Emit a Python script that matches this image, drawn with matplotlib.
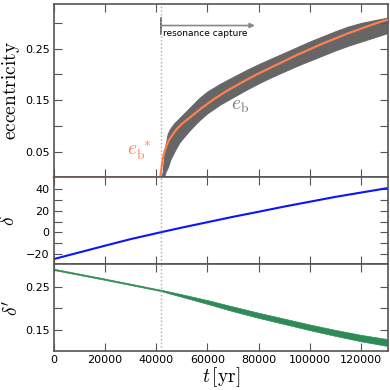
import matplotlib
matplotlib.use('Agg')
import matplotlib.pyplot as plt
import numpy as np

plt.rcParams['mathtext.fontset'] = 'cm'
plt.rcParams['font.size'] = 8

# eccentricity e_b* (orange, forced)
t_es = [0, 41500, 41800, 42200, 42700, 43300, 44000, 45000, 46500, 48000,
        50000, 52500, 55000, 57500, 60000, 62500, 65000, 67500, 70000,
        75000, 80000, 85000, 90000, 95000, 100000, 105000, 110000, 115000,
        120000, 125000, 130000]
e_star = [0.0, 0.0, 0.008, 0.025, 0.04, 0.052, 0.062, 0.073, 0.084, 0.094,
          0.104, 0.114, 0.124, 0.134, 0.143, 0.152, 0.160, 0.168, 0.175,
          0.189, 0.202, 0.214, 0.226, 0.238, 0.249, 0.260, 0.270, 0.280,
          0.289, 0.298, 0.306]

# e_b envelope (grey band, fast oscillation)
t_eb = [0, 41800, 42500, 43000, 43500, 44500, 45500, 47000, 49000, 51000,
        54000, 57000, 60000, 65000, 70000, 75000, 80000, 85000, 90000,
        95000, 100000, 105000, 110000, 115000, 120000, 125000, 130000]
eb_lo = [0.0, 0.0, 0.0, 0.0, 0.01, 0.02, 0.035, 0.05, 0.068, 0.08,
         0.097, 0.112, 0.125, 0.142, 0.156, 0.170, 0.183, 0.195, 0.206,
         0.217, 0.227, 0.237, 0.247, 0.256, 0.264, 0.272, 0.280]
eb_hi = [0.0, 0.0, 0.01, 0.04, 0.06, 0.085, 0.095, 0.105, 0.115, 0.125,
         0.140, 0.155, 0.167, 0.182, 0.195, 0.208, 0.220, 0.231, 0.242,
         0.253, 0.264, 0.274, 0.284, 0.293, 0.300, 0.305, 0.310]

# resonance angle offset delta
t_d = [0, 10000, 20000, 30000, 42000, 50000, 60000, 70000, 80000, 90000,
       100000, 110000, 120000, 130000]
delta = [-24.7, -18.5, -12.3, -6.2, 0.3, 4.5, 9.5, 14.5, 19.2, 24.0,
         28.5, 33.0, 37.0, 41.0]

# delta' (green); thin before capture, band afterwards
t_dp = [0, 20000, 41800, 50000, 60000, 70000, 80000, 90000, 100000,
        110000, 120000, 130000]
dp_mid = [0.290, 0.267, 0.241, 0.229, 0.214, 0.198, 0.183, 0.169, 0.155,
          0.142, 0.130, 0.120]
dp_half = [0.0015, 0.0015, 0.0015, 0.003, 0.0045, 0.0055, 0.006, 0.0063,
           0.0066, 0.007, 0.0075, 0.008]

t_cap = 41800

fig = plt.figure(figsize=(3.9, 3.9), dpi=100)
gs = fig.add_gridspec(3, 1, height_ratios=[2, 1, 1], hspace=0,
                      left=0.138, right=0.995, top=0.99, bottom=0.1)
ax1 = fig.add_subplot(gs[0])
ax2 = fig.add_subplot(gs[1], sharex=ax1)
ax3 = fig.add_subplot(gs[2], sharex=ax1)

# top panel
ax1.fill_between(t_eb, eb_lo, eb_hi, color='#666666', lw=0.8,
                 edgecolor='#666666')
ax1.plot(t_es, e_star, color='#ff7f50', lw=1.6, clip_on=False, zorder=5)
ax1.set_ylim(0, 0.337)
ax1.set_yticks([0.05, 0.1, 0.15, 0.2, 0.25, 0.3])
ax1.set_yticklabels(['0.05', '', '0.15', '', '0.25', ''])
ax1.set_ylabel(r'$\mathrm{eccentricity}$', fontsize=14, labelpad=2)
ax1.text(72900, 0.140, r'$e_{\mathrm{b}}$', color='#777777', fontsize=14,
         ha='center', va='center')
ax1.text(38000, 0.05, r'$e_{\mathrm{b}}^{\ *}$', color='#ff7f50',
         fontsize=14, ha='right', va='center')
ax1.plot([t_cap, t_cap], [0.279, 0.31], color='#555555', lw=1.2)
ax1.annotate('', xy=(78500, 0.295), xytext=(t_cap, 0.295),
             arrowprops=dict(arrowstyle='-|>', color='#888888', lw=1.2,
                             mutation_scale=7, shrinkA=0, shrinkB=0))
ax1.text(t_cap + 1000, 0.28, 'resonance capture', fontsize=6.5,
         ha='left', va='center')

# middle panel
ax2.plot(t_d, delta, color='#0a14ff', lw=1.5)
ax2.set_ylim(-29.5, 51)
ax2.set_yticks(np.arange(-20, 41, 10))
ax2.set_yticklabels(['\u221220', '', '0', '', '20', '', '40'])
ax2.set_ylabel(r'$\delta$', fontsize=14, labelpad=6)

# bottom panel
lo = np.array(dp_mid) - np.array(dp_half)
hi = np.array(dp_mid) + np.array(dp_half)
ax3.fill_between(t_dp, lo, hi, color='#2e8b57', lw=0.5, edgecolor='#2e8b57')
ax3.set_ylim(0.1, 0.302)
ax3.set_yticks([0.15, 0.2, 0.25])
ax3.set_yticklabels(['0.15', '', '0.25'])
ax3.set_ylabel(r"$\delta'$", fontsize=14, labelpad=2)
ax3.set_xlabel(r'$t\,[\mathrm{yr}]$', fontsize=14, labelpad=0)

ax1.set_xlim(0, 130500)
ax3.set_xticks(np.arange(0, 120001, 20000))
ax3.set_xticklabels([str(v) for v in range(0, 120001, 20000)])

for ax in (ax1, ax2, ax3):
    ax.axvline(t_cap, color='#aaaaaa', ls=':', lw=1.0)
    ax.tick_params(direction='in', top=True, right=True, length=6,
                   width=0.8, color='#555555', labelsize=8, pad=3)
    for s in ax.spines.values():
        s.set_color('#555555')
        s.set_linewidth(1.2)
for ax in (ax1, ax2):
    plt.setp(ax.get_xticklabels(), visible=False)

fig.savefig('out.png', dpi=100)
